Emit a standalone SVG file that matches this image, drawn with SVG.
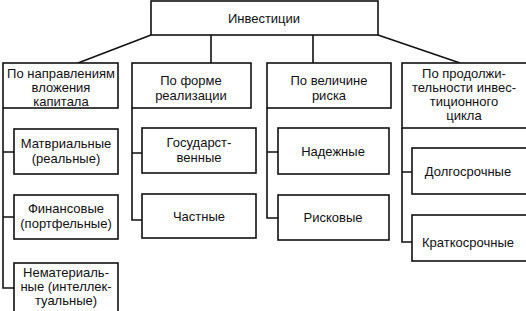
<svg xmlns="http://www.w3.org/2000/svg" width="526" height="311" viewBox="0 0 526 311">
<style>
rect{fill:#fff;stroke:#111;stroke-width:1.6}
.c{fill:none;stroke:#111;stroke-width:1.6}
text{font-family:"Liberation Sans",Arial,sans-serif;font-size:13px;fill:#111;text-anchor:middle}
</style>
<rect x="0" y="0" width="526" height="311" style="stroke:none"/>
<g id="connectors">
<path class="c" d="M151 35 L78 63 M211 35 V63 M313 35 V63 M378 35 L460 63"/>
<path class="c" d="M3 108 V288 H14 M3 152 H14 M3 217 H14"/>
<path class="c" d="M132 108 V220 H142 M132 153 H142"/>
<path class="c" d="M267 108 V218 H278 M267 152 H278"/>
<path class="c" d="M402 128 V242 H412 M402 172 H412"/>
</g>
<g id="root"><rect x="151" y="1" width="227" height="34"/><text x="264" y="23">Инвестиции</text></g>
<g id="cat1"><rect x="3" y="63" width="115" height="45"/><text x="61" y="78">По направлениям</text><text x="61" y="92">вложения</text><text x="61" y="106">капитала</text></g>
<g id="cat2"><rect x="132" y="63" width="119" height="45"/><text x="191" y="85">По форме</text><text x="191" y="100">реализации</text></g>
<g id="cat3"><rect x="267" y="63" width="124" height="45"/><text x="329" y="85">По величине</text><text x="329" y="100">риска</text></g>
<g id="cat4"><rect x="402" y="63" width="140" height="65"/><text x="464" y="78">По продолжи-</text><text x="464" y="92">тельности инвес-</text><text x="464" y="106">тиционного</text><text x="464" y="120">цикла</text></g>
<g id="n11"><rect x="14" y="129" width="104" height="45"/><text x="66" y="148">Матвриальные</text><text x="66" y="163">(реальные)</text></g>
<g id="n12"><rect x="14" y="195" width="104" height="44"/><text x="66" y="213">Финансовые</text><text x="66" y="228">(портфельные)</text></g>
<g id="n13"><rect x="14" y="263" width="104" height="54"/><text x="66" y="277">Нематериаль-</text><text x="66" y="291">ные (интеллек-</text><text x="66" y="305">туальные)</text></g>
<g id="n21"><rect x="142" y="128" width="114" height="45"/><text x="199" y="147">Государст-</text><text x="199" y="162">венные</text></g>
<g id="n22"><rect x="142" y="194" width="114" height="44"/><text x="199" y="221">Частные</text></g>
<g id="n31"><rect x="278" y="128" width="111" height="46"/><text x="333" y="156">Надежные</text></g>
<g id="n32"><rect x="278" y="195" width="111" height="45"/><text x="333" y="222">Рисковые</text></g>
<g id="n41"><rect x="412" y="148" width="130" height="46"/><text x="468" y="176">Долгосрочные</text></g>
<g id="n42"><rect x="412" y="215" width="130" height="46"/><text x="468" y="247">Краткосрочные</text></g>
</svg>
